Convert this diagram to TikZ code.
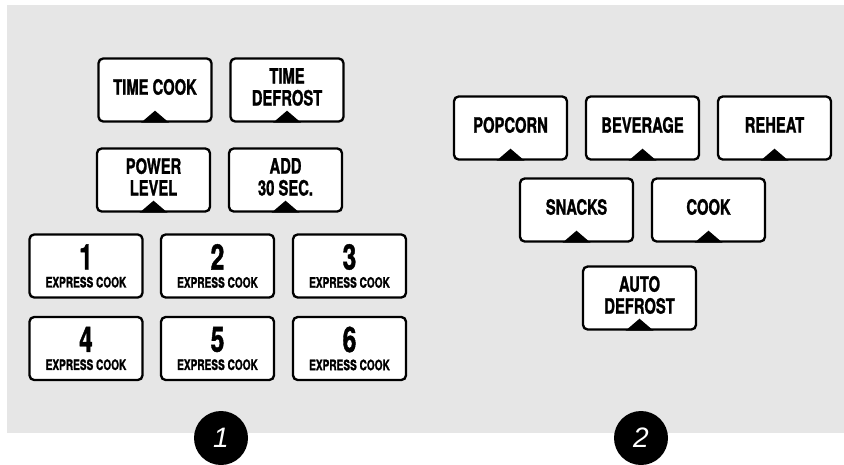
\documentclass[tikz,border=0pt]{standalone}
\usepackage{fontspec}
\newfontfamily\keyfont[FakeStretch=0.7, BoldFeatures={FakeBold=1.2}]{TeX Gyre Heros}
\newfontfamily\tagfont{Liberation Sans}
\definecolor{panel}{HTML}{E6E6E6}

\newcommand{\express}[1]{{\fontsize{30}{30}\selectfont #1}\\[-2.5pt]{\fontsize{12.3}{13}\selectfont EXPRESS COOK}}
\newcommand{\keylabel}[1]{\raisebox{0.5pt}{\begin{tabular}{@{}c@{}}#1\end{tabular}}}

\tikzset{
  key/.style={draw, line width=2pt, rounded corners=4pt, fill=white,
    minimum width=3.39cm, minimum height=1.89cm, inner sep=0pt,
    align=center, font=\keyfont\bfseries\fontsize{18}{18}\selectfont},
  tag/.style={circle, fill=black, minimum size=1.62cm, inner sep=0pt, text=white,
    font=\tagfont\itshape\fontsize{24}{24}\selectfont}
}

\begin{document}
\begin{tikzpicture}[x=0.03cm, y=-0.03cm]
    \useasboundingbox (0,0) rectangle (844,464);
    \fill [panel] (7,5) rectangle (844,433);

    % Left panel
    \node [key] (timecook) at (155,90) {\keylabel{TIME COOK}};
    \node [key] (timedefrost) at (287,90) {\keylabel{TIME\\DEFROST}};
    \node [key] (powerlevel) at (153.5,180) {\keylabel{POWER\\LEVEL}};
    \node [key] (addsec) at (285.5,180) {\keylabel{ADD\\30 SEC.}};

    % Express cook keys
    \node [key] (one) at (86,266) {\express{1}};
    \node [key] (two) at (217.5,266) {\express{2}};
    \node [key] (three) at (349.5,266) {\express{3}};
    \node [key] (four) at (86,348.5) {\express{4}};
    \node [key] (five) at (217.5,348.5) {\express{5}};
    \node [key] (six) at (349.5,348.5) {\express{6}};

    % Right panel
    \node [key] (popcorn) at (510.5,128) {\keylabel{POPCORN}};
    \node [key] (beverage) at (642.5,128) {\keylabel{BEVERAGE}};
    \node [key] (reheat) at (774.5,128) {\keylabel{REHEAT}};
    \node [key] (snacks) at (576.5,210) {\keylabel{SNACKS}};
    \node [key] (cook) at (708.5,210) {\keylabel{COOK}};
    \node [key] (autodefrost) at (639.5,298) {\keylabel{AUTO\\DEFROST}};

    % Pointer marks
    \foreach \k in {timecook, timedefrost, powerlevel, addsec, popcorn, beverage, reheat, snacks, cook, autodefrost}
        \fill (\k.south) ++(-0.42cm,0) -- ++(0.42cm,0.36cm) -- ++(0.42cm,-0.36cm) -- cycle;

    % Callouts
    \node [tag] (tagone) at (221,438) {1};
    \node [tag] (tagtwo) at (641,438) {2};
\end{tikzpicture}
\end{document}
